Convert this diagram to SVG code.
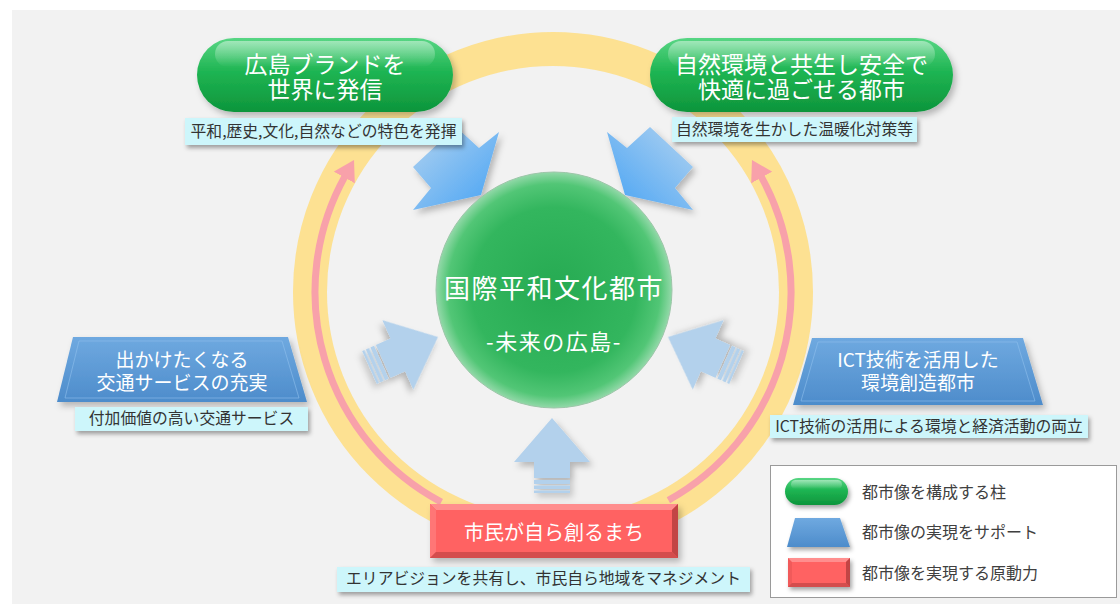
<svg xmlns="http://www.w3.org/2000/svg" width="1120" height="604" viewBox="0 0 1120 604">
<defs>
<style>
.jp{font-family:"Noto Sans CJK JP","Noto Sans",sans-serif}
.title{fill:#ffffff;font-size:23px;font-weight:400;text-anchor:middle}
.trap{fill:#ffffff;font-size:19px;font-weight:400;text-anchor:middle}
.sub{fill:#333333;font-size:15.8px;text-anchor:middle}
.leg{fill:#404040;font-size:16px}
.subbox{fill:#cdf6fb;filter:url(#sh)}
</style>
<filter id="sh" x="-10%" y="-30%" width="125%" height="180%">
<feDropShadow dx="2" dy="3" stdDeviation="2" flood-color="#000" flood-opacity="0.35"/>
</filter>
<filter id="sh2" x="-20%" y="-20%" width="150%" height="150%">
<feDropShadow dx="3" dy="4" stdDeviation="3" flood-color="#000" flood-opacity="0.25"/>
</filter>
<linearGradient id="gPill" x1="0" y1="0" x2="0" y2="1">
<stop offset="0" stop-color="#58d684"/>
<stop offset="0.45" stop-color="#1fb553"/>
<stop offset="1" stop-color="#0d953b"/>
</linearGradient>
<linearGradient id="gHi" x1="0" y1="0" x2="0" y2="1">
<stop offset="0" stop-color="#ffffff" stop-opacity="0.45"/>
<stop offset="1" stop-color="#ffffff" stop-opacity="0"/>
</linearGradient>
<radialGradient id="gSphere" cx="0.5" cy="0.5" r="0.5">
<stop offset="0" stop-color="#26aa52"/>
<stop offset="0.7" stop-color="#33b65e"/>
<stop offset="0.9" stop-color="#52c676"/>
<stop offset="1" stop-color="#93d9a9"/>
</radialGradient>
<linearGradient id="gTrap" x1="0" y1="0" x2="0" y2="1">
<stop offset="0" stop-color="#6fa9e0"/>
<stop offset="1" stop-color="#4d8ccb"/>
</linearGradient>
<linearGradient id="gArrTR" x1="1" y1="0" x2="0" y2="1">
<stop offset="0" stop-color="#b2d3f0"/>
<stop offset="1" stop-color="#45a2f4"/>
</linearGradient>
<linearGradient id="gArrTL" x1="0" y1="0" x2="1" y2="1">
<stop offset="0" stop-color="#b2d3f0"/>
<stop offset="1" stop-color="#45a2f4"/>
</linearGradient>
<marker id="pinkHead" viewBox="0 0 20 24" markerWidth="20" markerHeight="24" refX="1" refY="12" orient="auto" markerUnits="userSpaceOnUse">
<path d="M0,0 L20,12 L0,24 z" fill="#f8a1aa"/>
</marker>
<g id="stripeArrow">
<path d="M0,0 L38,44 L18,44 L18,60 L-18,60 L-18,44 L-38,44 Z" fill="#b3d1ec"/>
<rect x="-18" y="62" width="36" height="4" fill="#b3d1ec"/>
<rect x="-18" y="67.5" width="36" height="3.5" fill="#b3d1ec"/>
<rect x="-18" y="72.5" width="36" height="2.5" fill="#b3d1ec"/>
</g>
</defs>

<rect x="0" y="0" width="1120" height="604" fill="#ffffff"/>
<rect x="12" y="10" width="1108" height="594" fill="#f2f2f2"/>

<!-- ring -->
<g id="ring">
<circle cx="553" cy="292" r="243" fill="none" stroke="#fddf8c" stroke-width="34" stroke-opacity="0.95"/>
</g>

<!-- connectors -->
<g id="connectors">
<path d="M441.3,502.1 A238,238 0 0 1 344.8,176.6" fill="none" stroke="#f8a1aa" stroke-width="7" marker-end="url(#pinkHead)"/>
<path d="M668.4,500.2 A238,238 0 0 0 761.2,176.6" fill="none" stroke="#f8a1aa" stroke-width="7" marker-end="url(#pinkHead)"/>
<polygon points="481,195 499,132 479,148 456,127 413,167 431,188 413,210" fill="url(#gArrTL)" filter="url(#sh2)"/>
<polygon points="625,195 607,132 627,148 650,127 693,167 675,188 693,210" fill="url(#gArrTR)" filter="url(#sh2)"/>
<use href="#stripeArrow" transform="translate(438,337) rotate(66)" filter="url(#sh2)"/>
<use href="#stripeArrow" transform="translate(668,337) rotate(-66)" filter="url(#sh2)"/>
<use href="#stripeArrow" transform="translate(552,418)" filter="url(#sh2)"/>
</g>

<!-- center -->
<g id="center">
<circle cx="554" cy="290" r="118" fill="url(#gSphere)" stroke="#9cc6a8" stroke-width="1"/>
<text class="jp" x="554" y="298" fill="#ffffff" font-size="26" text-anchor="middle" letter-spacing="1.5">国際平和文化都市</text>
<text class="jp" x="554" y="350" fill="#ffffff" font-size="22" text-anchor="middle" letter-spacing="1.5">-未来の広島-</text>
</g>

<!-- top-left pillar -->
<g id="brand">
<rect x="197" y="38" width="256" height="74" rx="37" fill="url(#gPill)" filter="url(#sh2)"/>
<rect x="215" y="41" width="220" height="26" rx="13" fill="url(#gHi)"/>
<text class="jp title" x="325" y="72.5">広島ブランドを</text>
<text class="jp title" x="325" y="98">世界に発信</text>
<rect class="subbox" x="185" y="118" width="277" height="27"/>
<text class="jp sub" x="323.5" y="137">平和,歴史,文化,自然などの特色を発揮</text>
</g>

<!-- top-right pillar -->
<g id="nature">
<rect x="650" y="38" width="303" height="74" rx="37" fill="url(#gPill)" filter="url(#sh2)"/>
<rect x="668" y="41" width="267" height="26" rx="13" fill="url(#gHi)"/>
<text class="jp title" x="801.5" y="72.5">自然環境と共生し安全で</text>
<text class="jp title" x="801.5" y="98">快適に過ごせる都市</text>
<rect class="subbox" x="672" y="117" width="245" height="25"/>
<text class="jp sub" x="794.5" y="134.5">自然環境を生かした温暖化対策等</text>
</g>

<!-- left support -->
<g id="transport">
<polygon points="73,337 288,337 307,402 57,402" fill="url(#gTrap)" filter="url(#sh2)"/>
<polygon points="79,341 282,341 299,398 65,398" fill="none" stroke="#8fc0ec" stroke-width="1" opacity="0.6"/>
<text class="jp trap" x="182" y="367">出かけたくなる</text>
<text class="jp trap" x="182" y="390">交通サービスの充実</text>
<rect class="subbox" x="75" y="407" width="233" height="24"/>
<text class="jp sub" x="191.5" y="424">付加価値の高い交通サービス</text>
</g>

<!-- right support -->
<g id="ict">
<polygon points="812,338 1023,338 1043,405 793,405" fill="url(#gTrap)" filter="url(#sh2)"/>
<polygon points="818,342 1017,342 1035,401 801,401" fill="none" stroke="#8fc0ec" stroke-width="1" opacity="0.6"/>
<text class="jp trap" x="918" y="367">ICT技術を活用した</text>
<text class="jp trap" x="918" y="390">環境創造都市</text>
<rect class="subbox" x="770" y="415" width="318" height="23"/>
<text class="jp sub" x="929" y="432">ICT技術の活用による環境と経済活動の両立</text>
</g>

<!-- bottom driving force -->
<g id="citizens">
<g filter="url(#sh2)">
<rect x="430" y="504" width="248" height="54" fill="#f15a5a"/>
<polygon points="430,504 678,504 672,510 436,510" fill="#ff8e8e"/>
<polygon points="430,504 436,510 436,552 430,558" fill="#ff7676"/>
<polygon points="678,504 678,558 672,552 672,510" fill="#c24545"/>
<polygon points="430,558 436,552 672,552 678,558" fill="#d44d4d"/>
<rect x="436" y="510" width="236" height="42" fill="#ff6262"/>
</g>
<text class="jp" x="554" y="539.5" fill="#ffffff" font-size="20" text-anchor="middle">市民が自ら創るまち</text>
<rect class="subbox" x="337" y="567" width="413" height="25"/>
<text class="jp sub" x="543.5" y="584">エリアビジョンを共有し、市民自ら地域をマネジメント</text>
</g>

<!-- legend -->
<g id="legend">
<rect x="770.5" y="465.5" width="346" height="132" fill="#ffffff" stroke="#9a9a9a" stroke-width="1"/>
<rect x="785" y="478" width="63" height="27" rx="13.5" fill="url(#gPill)" filter="url(#sh)"/>
<rect x="791" y="480" width="51" height="9" rx="4.5" fill="url(#gHi)"/>
<polygon points="795,518 840,518 850,547 787,547" fill="url(#gTrap)" filter="url(#sh)"/>
<g filter="url(#sh)">
<rect x="788" y="558" width="62" height="29" fill="#f15a5a"/>
<polygon points="788,558 850,558 846,562 792,562" fill="#ff8e8e"/>
<polygon points="850,558 850,587 846,583 846,562" fill="#c24545"/>
<polygon points="788,587 792,583 846,583 850,587" fill="#d44d4d"/>
<rect x="792" y="562" width="54" height="21" fill="#ff6262"/>
</g>
<text class="jp leg" x="862" y="498">都市像を構成する柱</text>
<text class="jp leg" x="862" y="538">都市像の実現をサポート</text>
<text class="jp leg" x="862" y="579">都市像を実現する原動力</text>
</g>
</svg>
